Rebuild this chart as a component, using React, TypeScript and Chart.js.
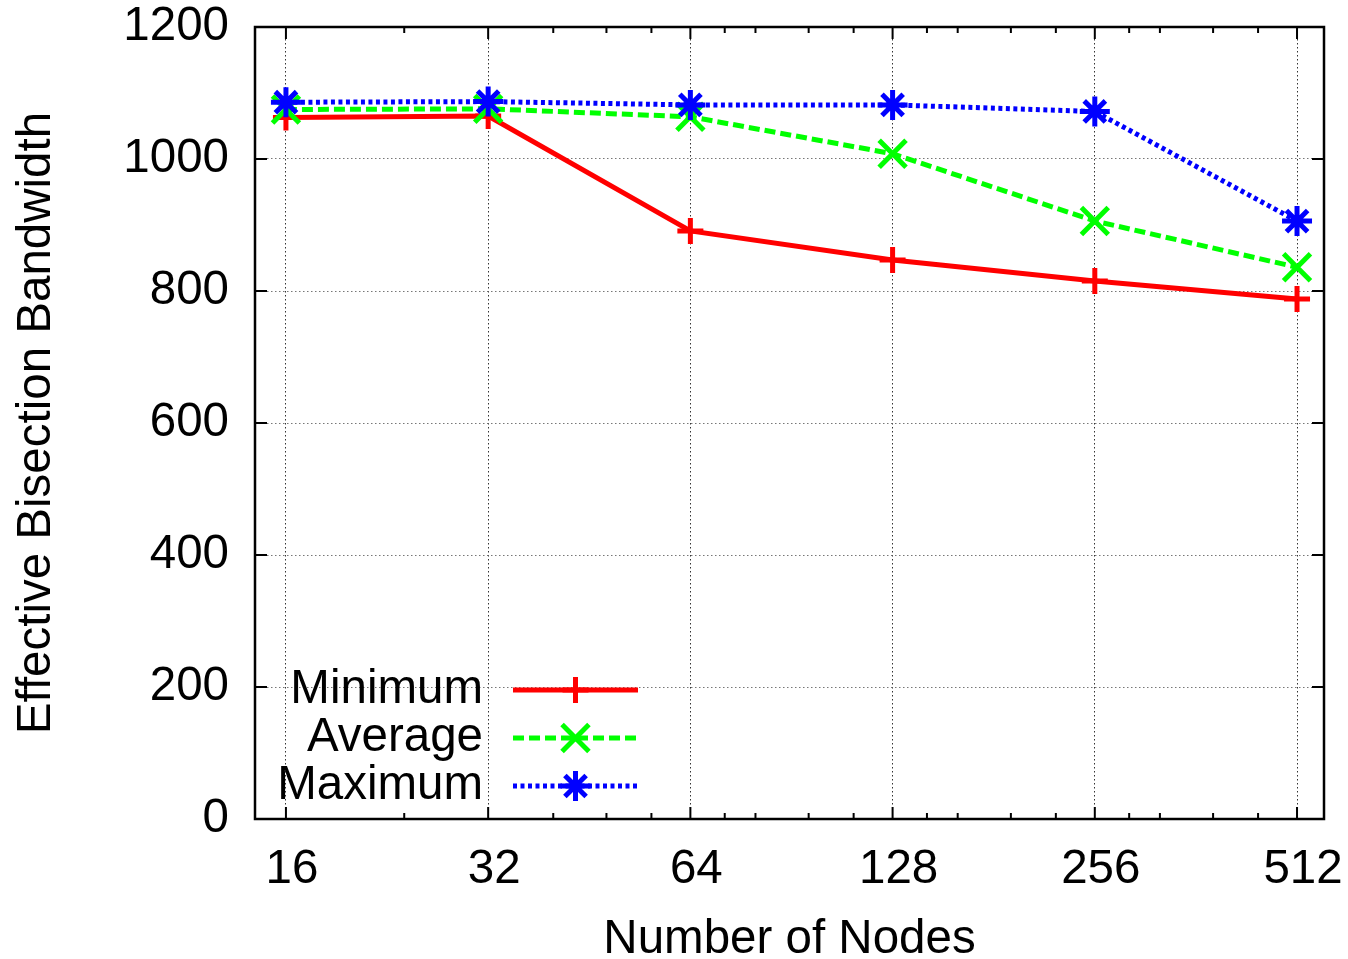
import React, { useEffect, useRef } from "react";
import { Chart, registerables } from "chart.js";

Chart.register(...registerables);

const nodes = [16, 32, 64, 128, 256, 512];
const minimumBW = [1063, 1065, 891, 847, 815, 788];
const averageBW = [1075, 1076, 1064, 1008, 906, 836];
const maximumBW = [1086, 1087, 1082, 1082, 1072, 906];
const yTicks = [0, 200, 400, 600, 800, 1000, 1200];
const xMinorTicks = [24, 40, 48, 56, 72, 80, 96, 112, 144, 160, 192, 224, 288, 320, 384, 448];
const seriesLabels = ["Minimum", "Average", "Maximum"];

const FONT_FAMILY = '"Liberation Sans", Arial, Helvetica, sans-serif';
const FONT_SIZE = 47.5;

function drawMarker(ctx: CanvasRenderingContext2D, style: string, x: number, y: number, r: number, color: string, w: number) {
  ctx.save();
  ctx.strokeStyle = color;
  ctx.lineWidth = w;
  ctx.setLineDash([]);
  ctx.beginPath();
  const plus = () => {
    ctx.moveTo(x - r, y); ctx.lineTo(x + r, y);
    ctx.moveTo(x, y - r); ctx.lineTo(x, y + r);
  };
  const cross = () => {
    const d = r * Math.SQRT1_2;
    ctx.moveTo(x - d, y - d); ctx.lineTo(x + d, y + d);
    ctx.moveTo(x - d, y + d); ctx.lineTo(x + d, y - d);
  };
  if (style === "cross") plus();
  if (style === "crossRot") cross();
  if (style === "star") { plus(); cross(); }
  ctx.stroke();
  ctx.restore();
}

const framePlugin = {
  id: "gnuframe",
  beforeDatasetsDraw(chart: any) {
    const { ctx, chartArea, scales } = chart;
    const { left, right, top, bottom } = chartArea;
    ctx.save();
    ctx.strokeStyle = "#000";
    ctx.lineWidth = 2;
    ctx.setLineDash([]);
    ctx.beginPath();
    for (const v of yTicks) {
      const y = scales.y.getPixelForValue(v);
      ctx.moveTo(left, y); ctx.lineTo(left + 12, y);
      ctx.moveTo(right, y); ctx.lineTo(right - 12, y);
    }
    for (const v of nodes) {
      const x = scales.x.getPixelForValue(v);
      ctx.moveTo(x, bottom); ctx.lineTo(x, bottom - 12);
      ctx.moveTo(x, top); ctx.lineTo(x, top + 12);
    }
    for (const v of xMinorTicks) {
      const x = scales.x.getPixelForValue(v);
      ctx.moveTo(x, bottom); ctx.lineTo(x, bottom - 6);
      ctx.moveTo(x, top); ctx.lineTo(x, top + 6);
    }
    ctx.stroke();
    ctx.lineWidth = 2.5;
    ctx.strokeRect(left, top, right - left, bottom - top);
    ctx.restore();
  },
  afterDatasetsDraw(chart: any) {
    const { ctx } = chart;
    const textRight = 483;
    const lineStart = 513;
    const lineEnd = 638;
    const rowTop = 690;
    const rowGap = 48;
    chart.data.datasets.forEach((ds: any, i: number) => {
      const y = rowTop + i * rowGap;
      ctx.save();
      ctx.font = `${FONT_SIZE}px ${FONT_FAMILY}`;
      ctx.fillStyle = "#000";
      ctx.textAlign = "right";
      ctx.textBaseline = "middle";
      ctx.fillText(ds.label, textRight, y);
      ctx.strokeStyle = ds.borderColor;
      ctx.lineWidth = ds.borderWidth;
      ctx.setLineDash(ds.borderDash || []);
      ctx.beginPath();
      ctx.moveTo(lineStart, y);
      ctx.lineTo(lineEnd, y);
      ctx.stroke();
      ctx.restore();
      drawMarker(ctx, ds.pointStyle, (lineStart + lineEnd) / 2, y, ds.pointRadius, ds.pointBorderColor, ds.pointBorderWidth);
    });
  },
};

export default function App() {
  const canvasRef = useRef<HTMLCanvasElement | null>(null);

  useEffect(() => {
    if (!canvasRef.current) return;
    const font = { family: FONT_FAMILY, size: FONT_SIZE };
    const chart = new Chart(canvasRef.current, {
      type: "line",
      data: {
        datasets: [
          {
            label: seriesLabels[0],
            data: nodes.map((n, i) => ({ x: n, y: minimumBW[i] })),
            borderColor: "#ff0000",
            backgroundColor: "#ff0000",
            borderWidth: 5,
            borderDash: [],
            pointStyle: "cross",
            pointRadius: 13,
            pointBorderWidth: 5,
            pointBorderColor: "#ff0000",
            tension: 0,
            order: 3,
          },
          {
            label: seriesLabels[1],
            data: nodes.map((n, i) => ({ x: n, y: averageBW[i] })),
            borderColor: "#00ff00",
            backgroundColor: "#00ff00",
            borderWidth: 5,
            borderDash: [11, 5],
            pointStyle: "crossRot",
            pointRadius: 19,
            pointBorderWidth: 5,
            pointBorderColor: "#00ff00",
            tension: 0,
            order: 2,
          },
          {
            label: seriesLabels[2],
            data: nodes.map((n, i) => ({ x: n, y: maximumBW[i] })),
            borderColor: "#0000ff",
            backgroundColor: "#0000ff",
            borderWidth: 5,
            borderDash: [4, 3.5],
            pointStyle: "star",
            pointRadius: 15,
            pointBorderWidth: 5,
            pointBorderColor: "#0000ff",
            tension: 0,
            order: 1,
          },
        ] as any,
      },
      options: {
        responsive: false,
        animation: false,
        layout: { padding: { top: 27, right: 23, left: 0, bottom: 0 } },
        plugins: {
          legend: { display: false },
          tooltip: { enabled: false },
        },
        scales: {
          x: {
            type: "logarithmic",
            min: 14.39,
            max: 561.6,
            bounds: "data",
            afterBuildTicks: (s: any) => {
              s.ticks = nodes.map((v) => ({ value: v }));
            },
            afterFit: (s: any) => {
              s.height = 140;
              s.paddingLeft = 0;
              s.paddingRight = 0;
            },
            ticks: {
              callback: (v: any) => String(v),
              font,
              color: "#000",
              padding: 22,
              labelOffset: 6,
              autoSkip: false,
              maxRotation: 0,
            },
            grid: { color: "#333", lineWidth: 1, drawTicks: false, tickLength: 0 },
            border: { display: false, dash: [1.5, 2.5] },
            title: {
              display: true,
              text: "Number of Nodes",
              font: { family: FONT_FAMILY, size: FONT_SIZE, lineHeight: 1 },
              color: "#000",
              padding: { top: 0, bottom: -5 },
            },
          },
          y: {
            type: "linear",
            min: 0,
            max: 1200,
            afterBuildTicks: (s: any) => {
              s.ticks = yTicks.map((v) => ({ value: v }));
            },
            afterFit: (s: any) => {
              s.width = 255;
              s.paddingTop = 0;
              s.paddingBottom = 0;
            },
            ticks: {
              callback: (v: any) => String(v),
              font,
              color: "#000",
              padding: 26,
            },
            grid: { color: "#777", lineWidth: 1, drawTicks: false, tickLength: 0 },
            border: { display: false, dash: [1.5, 2.5] },
            title: {
              display: true,
              text: "Effective Bisection Bandwidth",
              font: { family: FONT_FAMILY, size: FONT_SIZE, lineHeight: 1 },
              color: "#000",
              padding: { top: 13, bottom: 0 },
            },
          },
        },
      } as any,
      plugins: [framePlugin],
    });
    return () => chart.destroy();
  }, []);

  return (
    <div style={{ position: "absolute", left: 0, top: 0, width: 1348, height: 959, background: "#fff" }}>
      <canvas ref={canvasRef} width={1348} height={959} style={{ width: 1348, height: 959, display: "block" }} />
    </div>
  );
}
